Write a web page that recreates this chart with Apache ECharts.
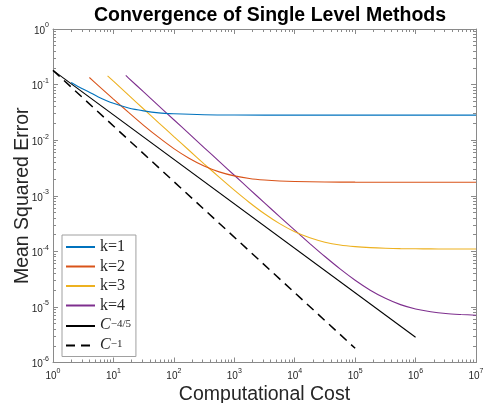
<!DOCTYPE html>
<html>
<head>
<meta charset="utf-8">
<script src="https://cdn.jsdelivr.net/npm/echarts@6/dist/echarts.min.js"></script>
<style>html,body{margin:0;padding:0;background:#fff;}#c{width:483px;height:403px;}</style>
</head>
<body>
<div id="c"></div>
<script>
// ---- data ----
const costK1 = [2, 3, 4, 5.62, 10, 17.8, 31.6, 56.2, 100, 316, 1000, 1e4, 1e5, 1e6, 1e7];
const mseK1  = [0.109, 0.085, 0.073, 0.060, 0.046, 0.038, 0.0337, 0.031, 0.0299, 0.0287, 0.0283, 0.0282, 0.0282, 0.0282, 0.0282];

const costK2 = [4, 5.62, 10, 17.8, 31.6, 56.2, 100, 178, 316, 562, 1000, 1778, 3162, 5623, 1e4, 31623, 1e5, 1e6, 1e7];
const mseK2  = [0.134, 0.096, 0.0548, 0.0316, 0.0185, 0.0112, 0.00705, 0.00473, 0.00343, 0.00269, 0.00228, 0.00205, 0.00192, 0.00184, 0.00180, 0.00177, 0.001755, 0.00175, 0.00175];

const costK3 = [8, 10, 17.8, 31.6, 56.2, 100, 178, 316, 562, 1000, 1778, 3162, 5623, 1e4, 17783, 31623, 56234, 1e5, 177828, 316228, 562341, 1e6, 1778279, 3162278, 1e7];
const mseK3  = [0.144, 0.115, 0.0647, 0.0364, 0.0205, 0.0116, 0.00658, 0.00375, 0.00216, 0.00126, 7.57e-4, 4.74e-4, 3.15e-4, 2.25e-4, 1.75e-4, 1.46e-4, 1.30e-4, 1.215e-4, 1.165e-4, 1.136e-4, 1.12e-4, 1.111e-4, 1.106e-4, 1.104e-4, 1.101e-4];

const costK4 = [16, 17.8, 31.6, 56.2, 100, 178, 316, 562, 1000, 1778, 3162, 5623, 1e4, 17783, 31623, 56234, 1e5, 177828, 316228, 562341, 1e6, 1778279, 3162278, 5623413, 1e7];
const mseK4  = [0.146, 0.131, 0.0737, 0.0415, 0.0233, 0.0131, 0.00737, 0.00415, 0.00234, 0.00132, 7.44e-4, 4.21e-4, 2.40e-4, 1.38e-4, 8.06e-5, 4.83e-5, 3.02e-5, 2.0e-5, 1.43e-5, 1.10e-5, 9.2e-6, 8.2e-6, 7.6e-6, 7.3e-6, 7.1e-6];

const costRef45 = [1, 1e6];
const mseRef45  = [0.18, 2.85e-6];
const costRef1  = [1, 1e5];
const mseRef1   = [0.18, 1.8e-6];

const seriesNames = ['k=1', 'k=2', 'k=3', 'k=4', 'C^{-4/5}', 'C^{-1}'];
const xMajorTicks = [1, 10, 100, 1e3, 1e4, 1e5, 1e6, 1e7];
const yMajorTicks = [1e-6, 1e-5, 1e-4, 1e-3, 1e-2, 1e-1, 1];

function minorTicks(lo, hi) {
  const out = [];
  for (let e = lo; e < hi; e++) {
    for (let m = 2; m <= 9; m++) out.push(m * Math.pow(10, e));
  }
  return out;
}
const xMinorTicks = minorTicks(0, 7);
const yMinorTicks = minorTicks(-6, 0);

function zip(xs, ys) { return xs.map((x, i) => [x, ys[i]]); }

const axisGray = '#8a8a8a';
const textCol = '#262626';
const labelFmt = v => '{b|10}{s|' + Math.round(Math.log10(v)) + '}';
const labelRich = {
  b: { fontSize: 10, fontFamily: 'Liberation Sans', color: textCol, verticalAlign: 'bottom', lineHeight: 14 },
  s: { fontSize: 7, fontFamily: 'Liberation Sans', color: textCol, verticalAlign: 'top', lineHeight: 14 }
};

function mkX(pos, major, showLabel) {
  return {
    type: 'log', logBase: 10, min: 1, max: 1e7, position: pos,
    axisLine: { show: major, lineStyle: { color: axisGray, width: 1 } },
    axisTick: { show: true, inside: true, length: major ? 5 : 3, lineStyle: { color: axisGray }, customValues: major ? xMajorTicks : xMinorTicks },
    axisLabel: { show: showLabel, customValues: xMajorTicks, formatter: labelFmt, rich: labelRich, margin: 5 },
    splitLine: { show: false }, minorTick: { show: false },
    name: showLabel ? 'Computational Cost' : '', nameLocation: 'middle', nameGap: 22, nameMoveOverlap: false,
    nameTextStyle: { fontSize: 19.5, fontFamily: 'Liberation Sans', color: textCol }
  };
}
function mkY(pos, major, showLabel) {
  return {
    type: 'log', logBase: 10, min: 1e-6, max: 1, position: pos,
    axisLine: { show: major, lineStyle: { color: axisGray, width: 1 } },
    axisTick: { show: true, inside: true, length: major ? 5 : 3, lineStyle: { color: axisGray }, customValues: major ? yMajorTicks : yMinorTicks },
    axisLabel: { show: showLabel, customValues: yMajorTicks, formatter: labelFmt, rich: labelRich, margin: 4 },
    splitLine: { show: false }, minorTick: { show: false },
    name: showLabel ? 'Mean Squared Error' : '', nameLocation: 'middle', nameGap: 20, nameMoveOverlap: false,
    nameTextStyle: { fontSize: 19.5, fontFamily: 'Liberation Sans', color: textCol }
  };
}

const colors = ['#0072BD', '#D95319', '#EDB120', '#7E2F8E', '#000000', '#000000'];
const costs = [costK1, costK2, costK3, costK4, costRef45, costRef1];
const mses = [mseK1, mseK2, mseK3, mseK4, mseRef45, mseRef1];

const series = seriesNames.map((n, i) => ({
  name: n, type: 'line', xAxisIndex: 0, yAxisIndex: 0,
  data: zip(costs[i], mses[i]),
  symbol: 'none', smooth: i < 4 ? 0.3 : false,
  lineStyle: { color: colors[i], width: i === 5 ? 1.5 : 1.1, type: i === 5 ? [9, 6] : 'solid' },
  itemStyle: { color: colors[i] },
  z: 10 - i
}));

const legendFmt = {
  'k=1': 'k=1', 'k=2': 'k=2', 'k=3': 'k=3', 'k=4': 'k=4',
  'C^{-4/5}': '{i|C}{s|−4/5}', 'C^{-1}': '{i|C}{s|−1}'
};

const chart = echarts.init(document.getElementById('c'), null, { renderer: 'canvas' });
chart.setOption({
  animation: false,
  backgroundColor: '#ffffff',
  title: {
    text: 'Convergence of Single Level Methods',
    left: 265, top: 1, textAlign: 'center',
    textStyle: { fontSize: 19.5, fontWeight: 'bold', fontFamily: 'Liberation Sans', color: '#000' }
  },
  grid: { left: 53, right: 7, top: 29, bottom: 40.5, containLabel: false, outerBoundsMode: 'none' },
  xAxis: [mkX('bottom', true, true), mkX('bottom', false, false), mkX('top', true, false), mkX('top', false, false)],
  yAxis: [mkY('left', true, true), mkY('left', false, false), mkY('right', true, false), mkY('right', false, false)],
  legend: {
    orient: 'vertical', left: 62, top: 235,
    data: seriesNames,
    itemWidth: 29, itemHeight: 14, itemGap: 3.5,
    padding: [4, 5, 4, 3],
    borderColor: '#a0a0a0', borderWidth: 1, backgroundColor: '#fff',
    itemStyle: { opacity: 0 },
    formatter: n => legendFmt[n],
    textStyle: {
      fontSize: 16, lineHeight: 14, fontFamily: 'Liberation Serif', color: textCol,
      rich: {
        i: { fontSize: 16, fontFamily: 'Liberation Serif', fontStyle: 'italic', color: textCol, verticalAlign: 'bottom', lineHeight: 14 },
        s: { fontSize: 11, fontFamily: 'Liberation Serif', color: textCol, verticalAlign: 'top', lineHeight: 14 }
      }
    }
  },
  series: series
});
</script>
</body>
</html>
